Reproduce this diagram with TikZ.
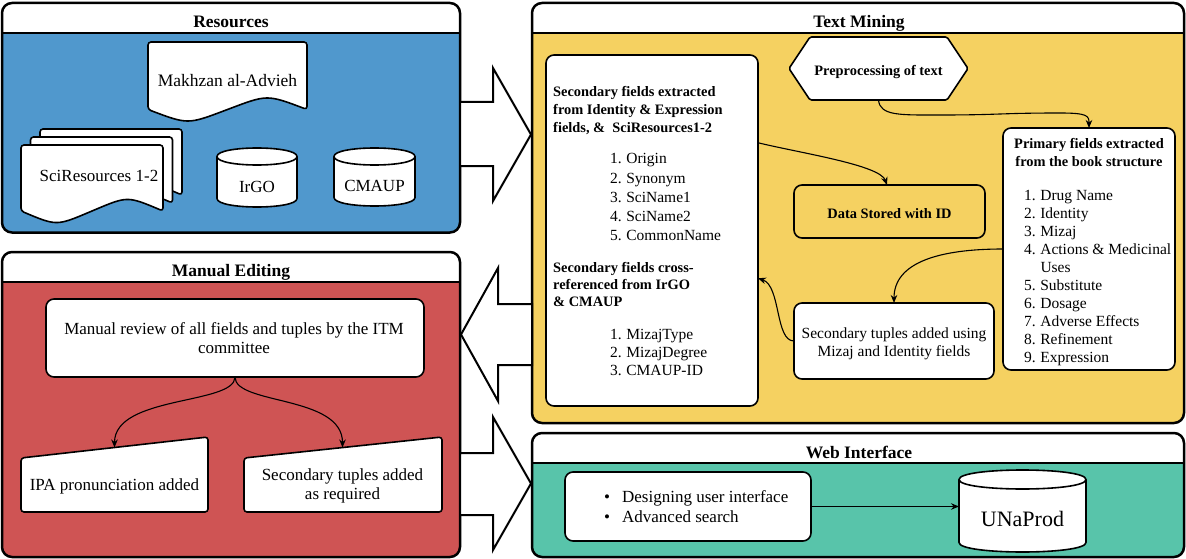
\documentclass[tikz,border=0pt]{standalone}
\usepackage{fontspec}
\setmainfont{Liberation Serif}
\usetikzlibrary{arrows.meta,calc}
\definecolor{resblue}{RGB}{80,152,205}
\definecolor{manred}{RGB}{207,84,84}
\definecolor{tmyellow}{RGB}{245,209,97}
\definecolor{webteal}{RGB}{88,196,170}
\newcommand{\ttlfont}{\fontsize{17.5}{21}\selectfont\bfseries}
\newcommand{\resfont}{\fontsize{17}{20}\selectfont}
\newcommand{\hdfont}{\fontsize{14.4}{17.5}\selectfont\bfseries}
\newcommand{\lstfont}{\fontsize{15.5}{18}\selectfont}
\newcommand{\bigfont}{\fontsize{22}{26}\selectfont}
\newcommand{\drawcyl}[5]{%
  \draw[shp] (#1,#3+#5) -- (#1,#4-#5) .. controls (#1,#4+#5/3) and (#2,#4+#5/3) .. (#2,#4-#5) -- (#2,#3+#5) .. controls (#2,#3-#5/3) and (#1,#3-#5/3) .. (#1,#3+#5) -- cycle;
  \draw[shp, fill=none] (#1,#3+#5) .. controls (#1,#3+7*#5/3) and (#2,#3+7*#5/3) .. (#2,#3+#5);
}
\tikzset{
  panel/.style={draw, line width=2.5pt, rounded corners=10pt, fill=white, outer sep=0pt, inner sep=0pt,
    path picture={\fill[#1, sharp corners] ([yshift=-30pt]path picture bounding box.north west) rectangle (path picture bounding box.south east);}},
  hdrline/.style={line width=2pt},
  ttl/.style={font=\ttlfont, inner sep=0pt, anchor=base},
  inbox/.style={draw, line width=1.6pt, fill=white, rounded corners=8pt, outer sep=0pt, inner sep=0pt},
  shp/.style={draw, line width=1.6pt, fill=white, line join=round},
  hd/.style={font=\hdfont, inner sep=0pt, anchor=base west},
  hdc/.style={font=\hdfont, inner sep=0pt, anchor=base},
  lst/.style={font=\lstfont, inner sep=0pt, anchor=base west},
  lstc/.style={font=\lstfont, inner sep=0pt, anchor=base},
  txt/.style={font=\resfont, inner sep=0pt, anchor=base},
  txtl/.style={font=\resfont, inner sep=0pt, anchor=base west},
  conn/.style={line width=1.1pt, -{Stealth[length=8pt,width=6.5pt]}},
  bigarrow/.style={draw, line width=2pt, fill=white, line join=miter},
}
\begin{document}
\begin{tikzpicture}[x=1pt,y=-1pt]
\fill[white] (0,0) rectangle (1186,559);
\useasboundingbox (0,0) rectangle (1186,559);

% ---------- panels ----------
\node[panel=resblue, minimum width=458pt, minimum height=229.5pt] (res) at (231,117.75) {};
\node[panel=manred, minimum width=458pt, minimum height=305pt] (man) at (231,404.5) {};
\node[panel=tmyellow, minimum width=652pt, minimum height=420pt] (tm) at (858,213) {};
\node[panel=webteal, minimum width=652pt, minimum height=124pt] (web) at (858,495) {};
\foreach \p in {res,man,tm,web}
  \draw[hdrline] ([yshift=-30pt]\p.north west) -- ([yshift=-30pt]\p.north east);

\node[ttl] (resT) at (231,28) {Resources};
\node[ttl] (tmT) at (859,28) {Text Mining};
\node[ttl] (manT) at (231,276.5) {Manual Editing};
\node[ttl] (webT) at (859,458) {Web Interface};

% ---------- big block arrows ----------
\draw[bigarrow] (460,102) -- (493,102) -- (493,68) -- (531,134.5) -- (493,201) -- (493,166) -- (460,166) -- cycle;
\draw[bigarrow] (532,304) -- (498,304) -- (498,268) -- (461,334.5) -- (498,401) -- (498,365) -- (532,365) -- cycle;
\draw[bigarrow] (460,453) -- (493,453) -- (493,417) -- (531,483.5) -- (493,550) -- (493,515) -- (460,515) -- cycle;

% ---------- Resources ----------
\draw[shp, rounded corners=3pt] (148,42) -- (307,42) -- (307,109.5) .. controls (267.25,94.5) .. (227.5,109.5) .. controls (187.75,124.5) .. (148,109.5) -- cycle;
\node[txt, font=\fontsize{17.5}{20}\selectfont] (mak) at (227.5,87) {Makhzan al-Advieh};

\foreach \dx/\dy in {19/-16, 9.5/-8, 0/0}
  \draw[shp, rounded corners=3pt, shift={(\dx,\dy)}] (21,145) -- (163,145) -- (163,211) .. controls (127.5,196) .. (92,211) .. controls (56.5,226) .. (21,211) -- cycle;
\node[txt] (sci) at (99,181) {SciResources 1-2};

\drawcyl{217}{297}{148}{207}{8.5}
\node[txt] (irgo) at (257,192) {IrGO};
\drawcyl{334}{415}{148}{206}{8.5}
\node[txt] (cmaup) at (374.5,191) {CMAUP};

% ---------- Text Mining ----------
\node[inbox, minimum width=212pt, minimum height=351pt] (lbox) at (652,230.5) {};
\node[hd] (lh1) at (553,97) {Secondary fields extracted};
\node[hd] (lh2) at (553,114.5) {from Identity \& Expression};
\node[hd] (lh3) at (553,132) {fields, \&\ \ SciResources1-2};
\foreach \t [count=\i] in {Origin,Synonym,SciName1,SciName2,CommonName}
  \node[lst] (la\i) at (610,{164+19*(\i-1)}) {\i.\hspace{4.5pt}\t};
\node[hd] (lh4) at (553,272) {Secondary fields cross-};
\node[hd] (lh5) at (553,289) {referenced from IrGO};
\node[hd] (lh6) at (553,306) {\& CMAUP};
\foreach \t [count=\i] in {MizajType,MizajDegree,CMAUP-ID}
  \node[lst] (lb\i) at (610,{339+18*(\i-1)}) {\i.\hspace{4.5pt}\t};

\draw[shp, rounded corners=1.5pt] (789,68.5) -- (810,37) -- (947,37) -- (968,68.5) -- (947,100) -- (810,100) -- cycle;
\node[minimum width=179pt, minimum height=63pt, inner sep=0pt, outer sep=0pt, font=\hdfont, text height=15pt, text depth=0pt] (prep) at (878.5,68.5) {Preprocessing of text};

\node[inbox, fill=none, minimum width=191pt, minimum height=53pt, font=\hdfont, text height=13pt, text depth=0pt] (dsid) at (889.5,211.5) {Data Stored with ID};

\node[inbox, minimum width=172pt, minimum height=242pt] (prim) at (1089,249) {};
\node[hdc] (ph1) at (1089,149) {Primary fields extracted};
\node[hdc] (ph2) at (1089,166) {from the book structure};
\foreach \n/\t/\yy in {1/Drug Name/200,2/Identity/218,3/Mizaj/236,4/Actions \& Medicinal/254,5/Substitute/290,6/Dosage/308,7/Adverse Effects/326,8/Refinement/344,9/Expression/362}
  \node[lst] (pl\n) at (1024,\yy) {\n.\hspace{4.5pt}\t};
\node[lst] (pl4b) at (1040.3,272) {Uses};

\node[inbox, minimum width=200pt, minimum height=76pt] (stup) at (894,341) {};
\node[lstc] (st1) at (894,338) {Secondary tuples added using};
\node[lstc] (st2) at (894,356) {Mizaj and Identity fields};

\draw[conn] (prep.south) .. controls (880,116) and (900,115) .. (940,115) .. controls (1000,115) and (1000,113) .. (1060,113) .. controls (1088,113) and (1089,116) .. (prim.north);
\draw[conn] ($(lbox.north east)!0.25!(lbox.south east)$) .. controls (800,153) and (880,165) .. ([xshift=-2.5pt]dsid.north);
\draw[conn] (prim.west) .. controls (940,249) and (894,262) .. (stup.north);
\draw[conn] (stup.west) .. controls (775,341) and (781,286) .. ($(lbox.north east)!0.636!(lbox.south east)$);

% ---------- Web Interface ----------
\node[inbox, minimum width=246pt, minimum height=69pt] (wl) at (688,506.5) {};
\node[txtl] (wb1) at (604,502) {\textbullet\hspace{12pt}Designing user interface};
\node[txtl] (wb2) at (604,522) {\textbullet\hspace{12pt}Advanced search};
\drawcyl{959}{1086}{470}{552}{9.5}
\node[minimum width=127pt, minimum height=82pt, inner sep=0pt, outer sep=0pt, font=\bigfont, text height=30pt, text depth=0pt] (una) at (1022.5,511) {UNaProd};
\draw[conn] (wl.east) -- (una.west |- wl.east);

% ---------- Manual Editing ----------
\node[inbox, minimum width=378pt, minimum height=78pt] (mrev) at (235,338) {};
\node[txt] (mr1) at (234,334.5) {Manual review of all fields and tuples by the ITM};
\node[txt] (mr2) at (234,353.5) {committee};

\draw[shp, rounded corners=3pt] (21,458) -- (208,437) -- (208,512) -- (21,512) -- cycle;
\node[txt] (ipa) at (114.5,490) {IPA pronunciation added};
\coordinate (ipaTop) at (114.5,447.5);
\draw[shp, rounded corners=3pt] (244,458) -- (442,437) -- (442,512) -- (244,512) -- cycle;
\node[txt] (sta1) at (342.5,480) {Secondary tuples added};
\node[txt] (sta2) at (342.5,499) {as required};
\coordinate (secTop) at (342.5,447.5);

\draw[conn] (mrev.south) .. controls (235,405) and (114.5,395) .. (ipaTop);
\draw[conn] (mrev.south) .. controls (235,405) and (342.5,395) .. (secTop);
\end{tikzpicture}
\end{document}
